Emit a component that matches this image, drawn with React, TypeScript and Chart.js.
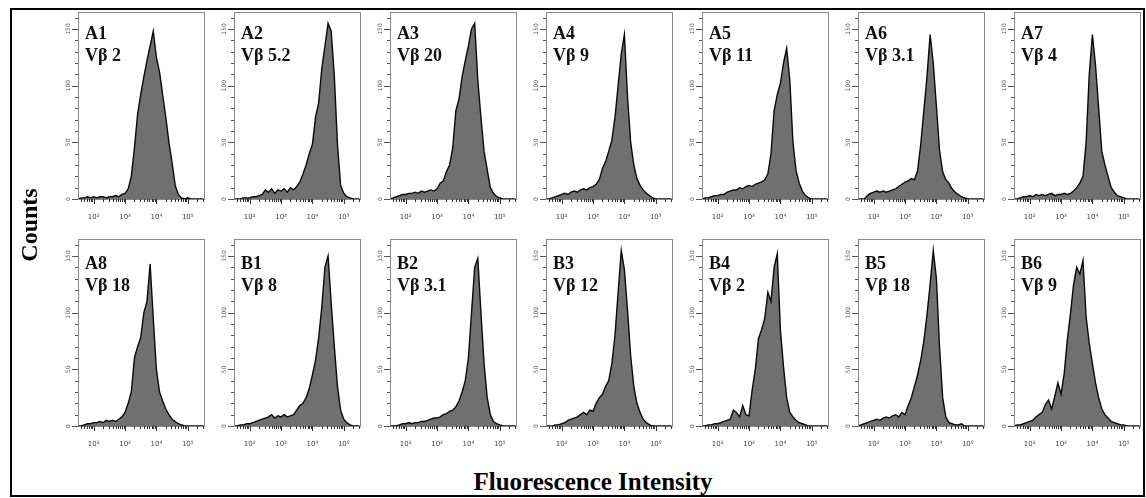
import React, { useEffect, useRef } from "react";
import { Chart, registerables } from "chart.js";
Chart.register(...registerables);

// histogram bin centres (log10 fluorescence)
const logBins = [1.5, 1.6, 1.7, 1.8, 1.9, 2.0, 2.1, 2.2, 2.3, 2.4, 2.5, 2.6, 2.7, 2.8, 2.9, 3.0, 3.1, 3.2, 3.3, 3.4, 3.5, 3.6, 3.7, 3.8, 3.9, 4.0, 4.1, 4.2, 4.3, 4.4, 4.5, 4.6, 4.7, 4.8, 4.9, 5.0, 5.1, 5.2, 5.3, 5.4, 5.5];

const panelIds = ["A1", "A2", "A3", "A4", "A5", "A6", "A7", "A8", "B1", "B2", "B3", "B4", "B5", "B6"];
const panelVb = ["Vβ 2", "Vβ 5.2", "Vβ 20", "Vβ 9", "Vβ 11", "Vβ 3.1", "Vβ 4", "Vβ 18", "Vβ 8", "Vβ 3.1", "Vβ 12", "Vβ 2", "Vβ 18", "Vβ 9"];

const countsA1 = [0, 1, 1, 2, 1, 2, 1, 2, 2, 1, 2, 2, 3, 2, 4, 5, 9, 20, 45, 75, 92, 108, 122, 135, 148, 125, 112, 92, 72, 50, 32, 12, 4, 1, 0, 1, 0, 0, 0, 0, 0];
const countsA2 = [0, 0, 0, 1, 1, 1, 2, 2, 3, 4, 8, 6, 9, 5, 8, 7, 9, 6, 10, 8, 11, 15, 22, 30, 40, 48, 72, 85, 115, 135, 155, 148, 108, 48, 12, 5, 2, 1, 0, 0, 0];
const countsA3 = [0, 1, 2, 3, 4, 4, 5, 5, 6, 5, 7, 6, 7, 8, 7, 9, 14, 16, 24, 30, 45, 78, 88, 108, 122, 135, 150, 155, 105, 72, 42, 26, 10, 5, 2, 1, 0, 0, 0, 0, 0];
const countsA4 = [0, 0, 1, 2, 3, 4, 5, 4, 6, 7, 6, 8, 9, 8, 10, 11, 13, 17, 27, 33, 42, 52, 72, 100, 128, 145, 90, 50, 30, 18, 12, 8, 5, 3, 1, 0, 0, 0, 0, 0, 0];
const countsA5 = [0, 1, 1, 2, 3, 3, 4, 4, 6, 7, 8, 8, 10, 9, 11, 12, 11, 13, 14, 15, 17, 22, 40, 78, 92, 102, 120, 133, 105, 50, 25, 14, 7, 3, 1, 0, 0, 0, 0, 0, 0];
const countsA6 = [0, 0, 0, 3, 5, 6, 7, 6, 7, 6, 7, 8, 9, 11, 13, 15, 16, 18, 17, 25, 48, 78, 108, 145, 120, 82, 43, 24, 17, 14, 9, 6, 4, 2, 1, 0, 0, 0, 0, 0, 0];
const countsA7 = [0, 0, 1, 2, 2, 3, 2, 4, 3, 4, 3, 4, 5, 3, 4, 4, 5, 4, 5, 7, 10, 14, 20, 50, 110, 145, 118, 80, 42, 30, 20, 10, 6, 3, 2, 1, 0, 0, 0, 0, 0];
const countsA8 = [0, 0, 1, 2, 2, 3, 3, 4, 3, 5, 4, 5, 4, 6, 8, 12, 20, 30, 60, 70, 78, 100, 110, 143, 95, 50, 30, 22, 15, 10, 6, 4, 2, 1, 0, 0, 0, 0, 0, 0, 0];
const countsB1 = [0, 0, 1, 1, 2, 2, 3, 4, 5, 6, 7, 8, 10, 7, 9, 8, 10, 8, 9, 10, 14, 18, 20, 25, 33, 45, 58, 78, 105, 140, 150, 108, 70, 35, 14, 6, 3, 1, 0, 0, 0];
const countsB2 = [0, 0, 0, 1, 2, 2, 3, 2, 3, 3, 4, 4, 5, 6, 7, 7, 8, 10, 11, 13, 14, 17, 22, 30, 40, 60, 100, 140, 148, 100, 55, 25, 10, 4, 2, 1, 0, 0, 0, 0, 0];
const countsB3 = [0, 0, 0, 1, 1, 2, 3, 5, 6, 7, 8, 10, 12, 10, 14, 13, 20, 25, 28, 35, 40, 55, 80, 118, 155, 138, 102, 62, 35, 20, 12, 6, 3, 1, 0, 0, 0, 0, 0, 0, 0];
const countsB4 = [0, 0, 1, 1, 2, 2, 3, 4, 5, 6, 14, 12, 8, 18, 10, 9, 32, 50, 77, 85, 95, 118, 110, 140, 152, 85, 52, 25, 12, 8, 5, 3, 2, 1, 0, 0, 0, 0, 0, 0, 0];
const countsB5 = [0, 1, 2, 3, 4, 5, 6, 5, 7, 8, 7, 9, 10, 8, 12, 10, 18, 25, 35, 45, 58, 75, 98, 125, 155, 130, 70, 25, 8, 3, 2, 1, 1, 2, 0, 0, 0, 0, 0, 0, 0];
const countsB6 = [0, 1, 1, 2, 3, 4, 5, 8, 10, 12, 19, 23, 15, 26, 38, 28, 46, 76, 99, 125, 140, 134, 146, 96, 73, 55, 38, 25, 15, 10, 7, 4, 3, 2, 1, 1, 0, 0, 0, 0, 0];

const panelCounts = [countsA1, countsA2, countsA3, countsA4, countsA5, countsA6, countsA7, countsA8, countsB1, countsB2, countsB3, countsB4, countsB5, countsB6];

const xTickValues = [2, 3, 4, 5];
const xTickLabels = ["10²", "10³", "10⁴", "10⁵"];
const yTickLabels = [0, 50, 100, 150];
const yTickMarks = [0, 10, 20, 30, 40, 50, 60, 70, 80, 90, 100, 110, 120, 130, 140, 150, 160];

const X_MIN = 1.5;
const X_MAX = 5.55;
const Y_MAX = 165;

// layout
const PLOT_W = 127;
const PLOT_H = 187;
const AXIS_W = 20;
const PAD_TOP = 2;
const PAD_RIGHT = 4;
const X_AXIS_H = 20;
const CANVAS_W = AXIS_W + PLOT_W + PAD_RIGHT;
const CANVAS_H = PAD_TOP + PLOT_H + X_AXIS_H;
const COL_LEFT0 = 78;
const COL_PITCH = 156;
const ROW_TOPS = [12, 239];
const LABEL_OFFSETS = [10, 13];

const SERIF = '"Liberation Serif", "Times New Roman", "DejaVu Serif", serif';

function xMinorPositions(): number[] {
  const out: number[] = [];
  for (let d = 1; d <= 5; d++) {
    for (let k = 1; k <= 9; k++) {
      const v = d + Math.log10(k);
      if (v >= X_MIN && v <= X_MAX) out.push(v);
    }
  }
  return out;
}

const panelPlugin = {
  id: "panelDecor",
  afterDraw(chart: any) {
    const { ctx, chartArea } = chart;
    const xs = chart.scales.x;
    const ys = chart.scales.y;
    ctx.save();
    // frame
    ctx.strokeStyle = "#8a8a8a";
    ctx.lineWidth = 1;
    ctx.strokeRect(chartArea.left + 0.5, chartArea.top + 0.5, chartArea.right - chartArea.left - 1, chartArea.bottom - chartArea.top);
    // x tick marks
    ctx.strokeStyle = "#333";
    ctx.beginPath();
    xs.ticks.forEach((t: any) => {
      const px = Math.round(xs.getPixelForValue(t.value)) + 0.5;
      const major = Math.abs(t.value - Math.round(t.value)) < 1e-9;
      const len = major ? 5 : 3;
      ctx.moveTo(px, chartArea.bottom);
      ctx.lineTo(px, chartArea.bottom + len);
    });
    ctx.stroke();
    // y tick marks
    ctx.strokeStyle = "#555";
    ctx.beginPath();
    ys.ticks.forEach((t: any) => {
      const py = Math.round(ys.getPixelForValue(t.value)) + 0.5;
      const len = t.value % 50 === 0 ? 6 : 3;
      ctx.moveTo(chartArea.left - len, py);
      ctx.lineTo(chartArea.left, py);
    });
    ctx.stroke();
    // rotated y labels
    ctx.fillStyle = "#555";
    ctx.font = '6px "DejaVu Sans"';
    ctx.textAlign = "center";
    ctx.textBaseline = "middle";
    yTickLabels.forEach((v) => {
      const py = ys.getPixelForValue(v);
      ctx.save();
      ctx.translate(chartArea.left - 10, py);
      ctx.rotate(-Math.PI / 2);
      ctx.fillText(String(v), 0, 0);
      ctx.restore();
    });
    ctx.restore();
  },
};

function Panel({ index }: { index: number }) {
  const ref = useRef<HTMLCanvasElement>(null);
  const row = index < 7 ? 0 : 1;
  const col = index % 7;
  const plotLeft = COL_LEFT0 + col * COL_PITCH;
  const plotTop = ROW_TOPS[row];

  useEffect(() => {
    const counts = panelCounts[index];
    const chart = new Chart(ref.current as HTMLCanvasElement, {
      type: "line",
      data: {
        datasets: [
          {
            data: logBins.map((x, i) => ({ x, y: counts[i] })),
            fill: "origin",
            backgroundColor: "#707070",
            borderColor: "#0a0a0a",
            borderWidth: 1.4,
            pointRadius: 0,
            tension: 0,
          },
        ],
      },
      options: {
        responsive: false,
        animation: false,
        devicePixelRatio: 1,
        layout: { padding: { left: 0, top: PAD_TOP, right: PAD_RIGHT, bottom: 0 } },
        plugins: { legend: { display: false }, tooltip: { enabled: false }, title: { display: false } },
        scales: {
          x: {
            type: "linear",
            min: X_MIN,
            max: X_MAX,
            afterBuildTicks: (s: any) => {
              s.ticks = xMinorPositions().map((v) => ({ value: v }));
            },
            afterFit: (s: any) => {
              s.height = X_AXIS_H;
            },
            grid: { display: false },
            border: { display: false },
            ticks: {
              autoSkip: false,
              maxRotation: 0,
              minRotation: 0,
              padding: 6,
              color: "#444",
              font: { size: 7, family: "DejaVu Sans" },
              callback: (v: any) => {
                const k = xTickValues.findIndex((t) => Math.abs(t - Number(v)) < 1e-9);
                return k >= 0 ? xTickLabels[k] : "";
              },
            },
          },
          y: {
            type: "linear",
            min: 0,
            max: Y_MAX,
            afterBuildTicks: (s: any) => {
              s.ticks = yTickMarks.map((v) => ({ value: v }));
            },
            afterFit: (s: any) => {
              s.width = AXIS_W;
            },
            grid: { display: false },
            border: { display: false },
            ticks: { display: false },
          },
        },
      } as any,
      plugins: [panelPlugin],
    });
    return () => chart.destroy();
  }, [index]);

  return (
    <>
      <canvas
        ref={ref}
        width={CANVAS_W}
        height={CANVAS_H}
        style={{ position: "absolute", left: plotLeft - AXIS_W, top: plotTop - PAD_TOP, width: CANVAS_W, height: CANVAS_H }}
      />
      <div
        style={{
          position: "absolute",
          left: plotLeft + 7,
          top: plotTop + LABEL_OFFSETS[row],
          fontFamily: SERIF,
          fontWeight: "bold",
          fontSize: 18,
          lineHeight: "22px",
          color: "#111",
          whiteSpace: "nowrap",
        }}
      >
        {panelIds[index]}
        <br />
        {panelVb[index]}
      </div>
    </>
  );
}

export default function App() {
  return (
    <div style={{ position: "absolute", left: 0, top: 0, width: 1146, height: 498, background: "#fff", overflow: "hidden" }}>
      <div
        style={{
          position: "absolute",
          left: 10,
          top: 8,
          width: 1135,
          height: 489,
          border: "2px solid #000",
          boxSizing: "border-box",
        }}
      />
      {panelIds.map((_, i) => (
        <Panel key={i} index={i} />
      ))}
      <div
        style={{
          position: "absolute",
          left: 29,
          top: 225,
          transform: "translate(-50%, -50%) rotate(-90deg)",
          fontFamily: SERIF,
          fontWeight: "bold",
          fontSize: 24,
          lineHeight: "24px",
          whiteSpace: "nowrap",
          color: "#000",
        }}
      >
        Counts
      </div>
      <div
        style={{
          position: "absolute",
          left: 593,
          top: 469,
          transform: "translateX(-50%)",
          fontFamily: SERIF,
          fontWeight: "bold",
          fontSize: 25,
          lineHeight: "25px",
          whiteSpace: "nowrap",
          color: "#000",
        }}
      >
        Fluorescence Intensity
      </div>
    </div>
  );
}
